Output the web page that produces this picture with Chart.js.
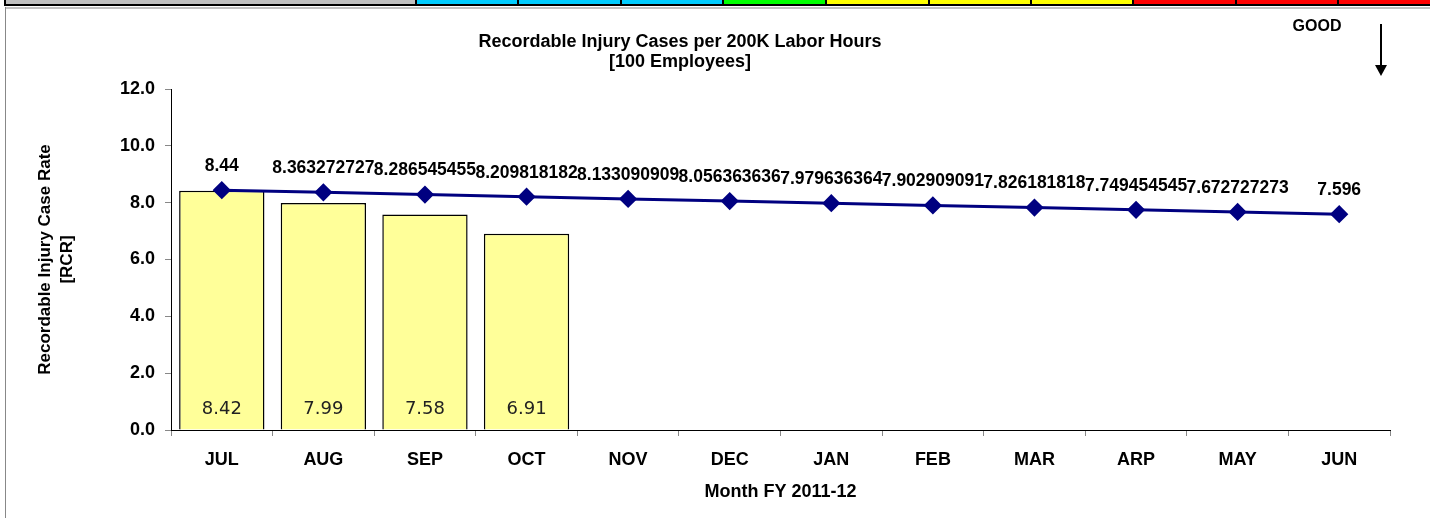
<!DOCTYPE html>
<html>
<head>
<meta charset="utf-8">
<script src="https://cdn.jsdelivr.net/npm/chart.js@4.4.0/dist/chart.umd.min.js"></script>
<style>
  html, body { margin: 0; padding: 0; background: #fff; }
  #wrap { width: 1430px; height: 518px; position: relative; }
</style>
</head>
<body>
<div id="wrap"><canvas id="rcrChart" width="1430" height="518"></canvas></div>
<script>
// Dữ liệu
const months = ['JUL', 'AUG', 'SEP', 'OCT', 'NOV', 'DEC', 'JAN', 'FEB', 'MAR', 'ARP', 'MAY', 'JUN'];
const actualRcr = [8.42, 7.99, 7.58, 6.91, null, null, null, null, null, null, null, null];
const goalRcr = [8.44, 8.363272727, 8.286545455, 8.209818182, 8.133090909, 8.056363636,
                 7.979636364, 7.902909091, 7.826181818, 7.749454545, 7.672727273, 7.596];
const goalLabels = ['8.44', '8.363272727', '8.286545455', '8.209818182', '8.133090909', '8.056363636',
                    '7.979636364', '7.902909091', '7.826181818', '7.749454545', '7.672727273', '7.596'];
const yTicks = [0, 2, 4, 6, 8, 10, 12];
const stripColors = ['#C0C0C0', '#00CCFF', '#00CCFF', '#00CCFF', '#00FF00', '#FFFF00', '#FFFF00', '#FFFF00', '#FF0000', '#FF0000', '#FF0000'];

const FONT = '"Liberation Sans", Arial, sans-serif';

// Vẽ khung, dải màu, tiêu đề, GOOD
const decorPlugin = {
    id: 'decor',
    beforeDraw(chart) {
        const ctx = chart.ctx;
        ctx.save();
        // dải màu trên cùng
        const edges = [6, 416, 518, 621, 723, 826, 929, 1031, 1133, 1236, 1338, 1432];
        stripColors.forEach((c, i) => {
            ctx.fillStyle = c;
            ctx.fillRect(edges[i], 0, edges[i + 1] - edges[i], 4);
        });
        ctx.fillStyle = '#000';
        ctx.fillRect(4, 0, 2, 6);
        ctx.fillRect(4, 4, 1426, 2);
        for (let i = 1; i < edges.length - 1; i++) ctx.fillRect(edges[i] - 1, 0, 2, 4);
        // khung xám
        ctx.fillStyle = '#c0c0c0';
        ctx.fillRect(5, 7, 1425, 2);
        ctx.fillStyle = '#888';
        ctx.fillRect(5, 7, 1, 511);

        // tiêu đề
        ctx.fillStyle = '#000';
        ctx.font = 'bold 18px ' + FONT;
        ctx.textAlign = 'center';
        ctx.textBaseline = 'middle';
        ctx.fillText('Recordable Injury Cases per 200K Labor Hours', 680, 42);
        ctx.fillText('[100 Employees]', 680, 62);

        // GOOD + mũi tên
        ctx.font = 'bold 16px ' + FONT;
        ctx.fillText('GOOD', 1317, 27);
        ctx.strokeStyle = '#000';
        ctx.lineWidth = 2;
        ctx.beginPath();
        ctx.moveTo(1381, 24);
        ctx.lineTo(1381, 66);
        ctx.stroke();
        ctx.beginPath();
        ctx.moveTo(1375, 65);
        ctx.lineTo(1387, 65);
        ctx.lineTo(1381, 76);
        ctx.closePath();
        ctx.fill();
        ctx.restore();
    },
    afterDatasetsDraw(chart) {
        const ctx = chart.ctx;
        ctx.save();
        ctx.textAlign = 'center';
        ctx.textBaseline = 'middle';
        // nhãn cột
        const barMeta = chart.getDatasetMeta(0);
        ctx.font = '18px "DejaVu Sans", sans-serif';
        ctx.fillStyle = '#222';
        barMeta.data.forEach((bar, i) => {
            if (actualRcr[i] == null) return;
            ctx.fillText(actualRcr[i].toFixed(2), bar.x, chart.scales.y.getPixelForValue(0) - 21);
        });
        // nhãn đường
        const lineMeta = chart.getDatasetMeta(1);
        ctx.font = 'bold 17.5px ' + FONT;
        ctx.fillStyle = '#000';
        lineMeta.data.forEach((pt, i) => {
            ctx.fillText(goalLabels[i], pt.x, pt.y - 24);
        });
        ctx.restore();
    }
};

const rcrCtx = document.getElementById('rcrChart').getContext('2d');
const rcrChart = new Chart(rcrCtx, {
    data: {
        labels: months,
        datasets: [
            {
                type: 'bar',
                label: 'RCR',
                data: actualRcr,
                backgroundColor: '#FFFF99',
                borderColor: '#000',
                borderWidth: 1.5,
                categoryPercentage: 1,
                barPercentage: 0.84,
                order: 2
            },
            {
                type: 'line',
                label: 'Goal',
                data: goalRcr,
                borderColor: '#000080',
                backgroundColor: '#000080',
                borderWidth: 3,
                pointStyle: 'rectRot',
                pointRadius: 7,
                pointHoverRadius: 7,
                tension: 0,
                order: 1
            }
        ]
    },
    options: {
        responsive: false,
        animation: false,
        layout: { padding: { left: 10, right: 40, top: 89, bottom: 10 } },
        plugins: {
            legend: { display: false },
            tooltip: { enabled: false },
            title: { display: false }
        },
        scales: {
            x: {
                offset: true,
                border: { color: '#000', width: 1 },
                grid: { offset: true, drawOnChartArea: false, color: '#888', tickLength: 6 },
                ticks: { color: '#000', font: { family: FONT, size: 18, weight: 'bold' }, padding: 13 },
                title: {
                    display: true,
                    text: 'Month FY 2011-12',
                    color: '#000',
                    font: { family: FONT, size: 18, weight: 'bold' },
                    padding: { top: 4, bottom: 5 }
                },
                afterFit(scale) { scale.height = 78; }
            },
            y: {
                min: 0,
                max: 12,
                border: { color: '#000', width: 1 },
                grid: { drawOnChartArea: false, color: '#888', tickLength: 6 },
                afterBuildTicks(scale) { scale.ticks = yTicks.map(v => ({ value: v })); },
                ticks: {
                    color: '#000',
                    padding: 10,
                    font: { family: FONT, size: 18, weight: 'bold' },
                    callback: v => Number(v).toFixed(1)
                },
                title: {
                    display: true,
                    text: ['Recordable Injury Case Rate', '[RCR]'],
                    color: '#000',
                    font: { family: FONT, size: 17, weight: 'bold', lineHeight: 1.3 },
                    padding: { top: 24, bottom: 0 }
                },
                afterFit(scale) { scale.width = 161; }
            }
        }
    },
    plugins: [decorPlugin]
});
</script>
</body>
</html>
